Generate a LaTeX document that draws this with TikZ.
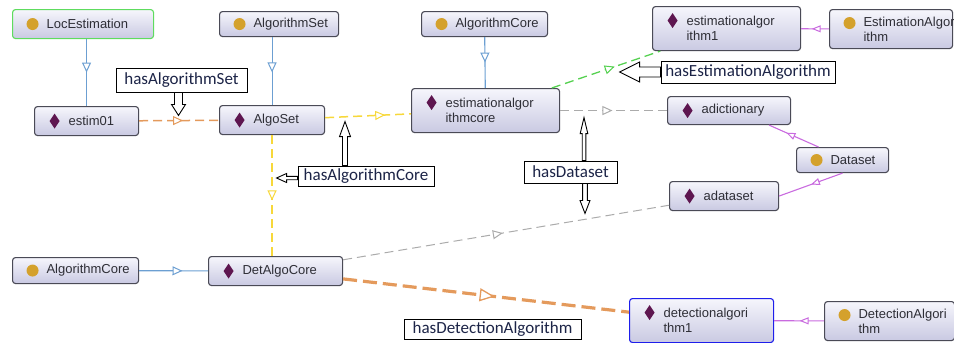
\documentclass[tikz,border=0pt]{standalone}
\usepackage{fontspec}
\newfontfamily\boxfont{Liberation Sans}
\newfontfamily\lblfont{Carlito}
\usetikzlibrary{arrows.meta,decorations.markings}
\definecolor{boxTop}{HTML}{F6F6FC}
\definecolor{boxBot}{HTML}{C9C9E2}
\definecolor{boxLine}{HTML}{4A4A56}
\definecolor{boxText}{HTML}{2E2E36}
\definecolor{iconGold}{HTML}{D4A12C}
\definecolor{iconPurple}{HTML}{5E1650}
\definecolor{edgeBlue}{HTML}{6C9FD2}
\definecolor{edgeOrange}{HTML}{E49A5C}
\definecolor{edgeYellow}{HTML}{F7D83A}
\definecolor{edgeGreen}{HTML}{55D150}
\definecolor{edgeGray}{HTML}{ABABAB}
\definecolor{edgeViolet}{HTML}{C96BDF}
\definecolor{rootGreen}{HTML}{5EDC5E}
\definecolor{selBlue}{HTML}{1E1EEB}
\definecolor{lblText}{HTML}{1C2447}

\tikzset{
  tipM/.tip={Triangle[open,fill=white,length=10pt,width=9pt,line width=1pt]},
  tipS/.tip={Triangle[open,fill=white,length=9pt,width=7pt,line width=1pt]},
  tipL/.tip={Triangle[open,fill=white,length=15pt,width=13pt,line width=1.3pt]},
  pics/hollow/.style n args={4}{code={
    \draw[fill=white,line width=.9pt] (0,-#3) -- ({#1-#2},-#3) -- ({#1-#2},-#4)
      -- (#1,0) -- ({#1-#2},#4) -- ({#1-#2},#3) -- (0,#3) -- cycle;
  }}
}

\begin{document}
\begin{tikzpicture}[x=1pt,y=-1pt,
  icony/.store in=\icony, icony=0pt,
  box/.style={draw=boxLine,line width=1.1pt,rounded corners=3pt,top color=boxTop,bottom color=boxBot,
    anchor=north west,align=left,inner sep=0pt,text=boxText,
    font=\boxfont\fontsize{13}{15}\selectfont,execute at begin node={\hyphenpenalty10000\relax}},
  cls/.style={box,path picture={\fill[iconGold] ([xshift=20pt,yshift=\icony]path picture bounding box.west) circle (6pt);}},
  ind/.style={box,path picture={\fill[iconPurple,sharp corners] ([xshift=20pt,yshift=\icony]path picture bounding box.west)
    ++(0,7.5pt) -- ++(5pt,-7.5pt) -- ++(-5pt,-7.5pt) -- ++(-5pt,7.5pt) -- cycle;}},
  lbl/.style={draw=black,line width=.9pt,fill=white,text=lblText,inner sep=0pt,
    font=\lblfont\fontsize{17}{18}\selectfont},
  isa/.style 2 args={postaction={decorate},decoration={markings,mark=at position #1 with {\arrow{#2}}}},
  dsh/.style={dash pattern=on 9pt off 5pt}]
\useasboundingbox (0,0) rectangle (954,343);
% classes and individuals
\node[cls,draw=rootGreen,minimum width=141pt,minimum height=29pt,text width=73pt] (locEst) at (12,9) {LocEstimation};
\node[cls,minimum width=119pt,minimum height=25pt,text width=51pt] (algoSetCls) at (219,11) {AlgorithmSet};
\node[cls,minimum width=126pt,minimum height=25pt,text width=58pt] (algoCoreTop) at (421,11) {AlgorithmCore};
\node[ind,icony=8pt,minimum width=148pt,minimum height=44pt,text width=80pt] (estAlg1) at (652,6) {estimationalgor\\ithm1};
\node[cls,icony=6pt,minimum width=123pt,minimum height=39pt,text width=55pt] (estAlgCls) at (829,9) {EstimationAlgor\\ithm};
\node[ind,minimum width=104pt,minimum height=29pt,text width=36pt] (estim01) at (34,106) {estim01};
\node[ind,minimum width=105pt,minimum height=29pt,text width=37pt] (algoSet) at (219,105) {AlgoSet};
\node[ind,icony=8pt,minimum width=148pt,minimum height=44pt,text width=80pt] (estAlgCore) at (411,88) {estimationalgor\\ithmcore};
\node[ind,minimum width=123pt,minimum height=28pt,text width=55pt] (adict) at (667,96) {adictionary};
\node[cls,minimum width=92pt,minimum height=25pt,text width=24pt] (datasetCls) at (796,147) {Dataset};
\node[ind,minimum width=109pt,minimum height=29pt,text width=41pt] (adataset) at (669,181) {adataset};
\node[cls,minimum width=126pt,minimum height=26pt,text width=58pt] (algoCoreBot) at (12,257) {AlgorithmCore};
\node[ind,minimum width=134pt,minimum height=29pt,text width=66pt] (detCore) at (208,256) {DetAlgoCore};
\node[ind,draw=selBlue,icony=8pt,minimum width=144pt,minimum height=44pt,text width=76pt] (detAlg1) at (629,298) {detectionalgori\\thm1};
\node[cls,icony=6pt,minimum width=130pt,minimum height=39pt,text width=62pt] (detAlgCls) at (824,301) {DetectionAlgori\\thm};
% links
\draw[edgeBlue,line width=1.1pt,isa={.5}{tipM}] (locEst.south -| estim01.north) -- (estim01.north);
\draw[edgeBlue,line width=1.1pt,isa={.52}{tipM}] (algoSetCls.south -| algoSet.north) -- (algoSet.north);
\draw[edgeBlue,line width=1.1pt,isa={.5}{tipM}] (algoCoreTop) -- (estAlgCore);
\draw[edgeBlue,line width=1.1pt,isa={.63}{tipM}] (algoCoreBot) -- (detCore);
\draw[edgeOrange,line width=1.5pt,dsh,isa={.55}{tipM}] (estim01) -- (algoSet);
\draw[edgeYellow,line width=1.5pt,dsh,isa={.7}{tipM}] (algoSet) -- (estAlgCore);
\draw[edgeYellow,line width=1.5pt,dsh,isa={.54}{tipM}] (algoSet.south) -- (algoSet.south |- detCore.north);
\draw[edgeGreen,line width=1.3pt,dsh,isa={.58}{tipM}] (estAlgCore) -- (estAlg1);
\draw[edgeGray,line width=1.5pt,dsh,isa={.49}{tipM}] (estAlgCore) -- (adict);
\draw[edgeGray,line width=1pt,dsh,isa={.49}{tipM}] (detCore) -- (adataset);
\draw[edgeOrange,line width=3.2pt,dash pattern=on 14pt off 6pt,isa={.53}{tipL}] (detCore) -- (detAlg1);
\draw[edgeViolet,line width=1.1pt,isa={.62}{tipS}] (estAlgCls) -- (estAlg1);
\draw[edgeViolet,line width=1.1pt,isa={.65}{tipS}] ([xshift=-24pt]datasetCls.north) -- ([xshift=40pt]adict.south);
\draw[edgeViolet,line width=1.1pt,isa={.5}{tipS}] (datasetCls.south) -- (adataset.east);
\draw[edgeViolet,line width=1.1pt,isa={.49}{tipS}] (detAlgCls) -- (detAlg1);
% property callouts
\node[lbl,minimum width=131pt,minimum height=24pt] (lblAS) at (181.5,80) {hasAlgorithmSet};
\node[lbl,minimum width=136pt,minimum height=20pt] (lblAC) at (366,176) {hasAlgorithmCore};
\node[lbl,minimum width=93pt,minimum height=22pt] (lblDS) at (570.5,172) {hasDataset};
\node[lbl,minimum width=174pt,minimum height=22pt] (lblEA) at (748,72) {hasEstimationAlgorithm};
\node[lbl,minimum width=177pt,minimum height=20pt] (lblDA) at (492.5,329) {hasDetectionAlgorithm};
\pic[rotate=-90] at ([xshift=-3pt]lblAS.south) {hollow={23}{11}{4}{7}};
\pic[rotate=180] at ([yshift=-2pt]lblAC.west) {hollow={21}{10}{1.7}{4.5}};
\pic[rotate=90] at ([xshift=-21pt]lblAC.north) {hollow={44}{15}{2.5}{5.5}};
\pic[rotate=90] at ([xshift=13.5pt]lblDS.north) {hollow={43}{16}{1.8}{3.8}};
\pic[rotate=-90] at ([xshift=14.5pt]lblDS.south) {hollow={30}{13}{2.4}{5}};
\pic[rotate=180] at (lblEA.west) {hollow={41}{20}{5}{10}};
\end{tikzpicture}
\end{document}
